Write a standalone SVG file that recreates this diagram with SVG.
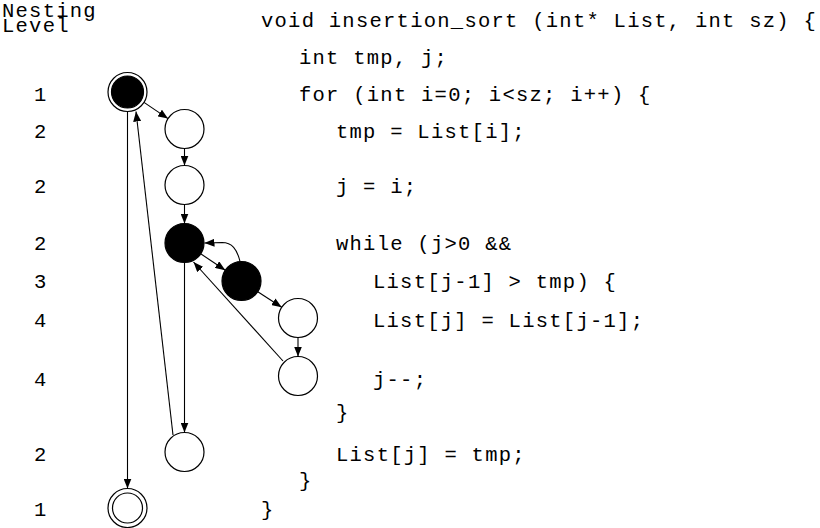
<svg xmlns="http://www.w3.org/2000/svg" width="820" height="528" viewBox="0 0 820 528">
<style>
text{font-family:"Liberation Mono","Courier New",monospace;font-size:20.5px;letter-spacing:1.26px;fill:#000}
.n{fill:#fff;stroke:#000;stroke-width:1.2}
.f{fill:#000;stroke:#000;stroke-width:1.2}
.e{fill:none;stroke:#000;stroke-width:1.1}
</style>
<defs>
<marker id="a" viewBox="0 0 10 8" refX="10" refY="4" markerWidth="10" markerHeight="8" markerUnits="userSpaceOnUse" orient="auto">
<path d="M0,0 L10,4 L0,8 Z" fill="#000"/>
</marker>
</defs>
<g id="labels">
<text x="2" y="17">Nesting</text>
<text x="2" y="32">Level</text>
<text x="34" y="101">1</text>
<text x="34" y="138">2</text>
<text x="34" y="193">2</text>
<text x="34" y="250">2</text>
<text x="34" y="288">3</text>
<text x="34" y="327">4</text>
<text x="34" y="386">4</text>
<text x="34" y="461">2</text>
<text x="34" y="516">1</text>
</g>
<g id="code">
<text x="261" y="27">void insertion_sort (int* List, int sz) {</text>
<text x="299" y="64">int tmp, j;</text>
<text x="299" y="101">for (int i=0; i&lt;sz; i++) {</text>
<text x="336" y="138">tmp = List[i];</text>
<text x="336" y="193">j = i;</text>
<text x="336" y="250">while (j&gt;0 &amp;&amp;</text>
<text x="373" y="288">List[j-1] &gt; tmp) {</text>
<text x="373" y="327">List[j] = List[j-1];</text>
<text x="373" y="386">j--;</text>
<text x="336" y="419">}</text>
<text x="336" y="461">List[j] = tmp;</text>
<text x="299" y="487">}</text>
<text x="261" y="516">}</text>
</g>
<g id="connectors">
<line class="e" x1="144" y1="102.4" x2="168" y2="118.6" marker-end="url(#a)"/>
<line class="e" x1="184.5" y1="148.5" x2="184.5" y2="165.5" marker-end="url(#a)"/>
<line class="e" x1="184.5" y1="204.5" x2="184.5" y2="223.5" marker-end="url(#a)"/>
<line class="e" x1="200.7" y1="253.8" x2="225.3" y2="270.2" marker-end="url(#a)"/>
<path class="e" d="M240,261.5 C237,249 232,242.5 222,242.5 L204.5,243" marker-end="url(#a)"/>
<line class="e" x1="257.8" y1="291.7" x2="281.7" y2="307.3" marker-end="url(#a)"/>
<line class="e" x1="298" y1="337.5" x2="298" y2="356.5" marker-end="url(#a)"/>
<line class="e" x1="283" y1="361" x2="193.5" y2="262" marker-end="url(#a)"/>
<line class="e" x1="184.5" y1="262.5" x2="184.5" y2="432.5" marker-end="url(#a)"/>
<line class="e" x1="173" y1="435" x2="136" y2="111.5" marker-end="url(#a)"/>
<line class="e" x1="127.5" y1="111.5" x2="127.5" y2="488.5" marker-end="url(#a)"/>
</g>
<g id="n1"><circle class="n" cx="127.5" cy="92" r="19.5"/><circle class="f" cx="127.5" cy="92" r="16"/></g>
<g id="n2"><circle class="n" cx="184.5" cy="129" r="19.5"/></g>
<g id="n3"><circle class="n" cx="184.5" cy="185" r="19.5"/></g>
<g id="n4"><circle class="f" cx="184.5" cy="243" r="19.5"/></g>
<g id="n5"><circle class="f" cx="241.5" cy="281" r="19.5"/></g>
<g id="n6"><circle class="n" cx="298" cy="318" r="19.5"/></g>
<g id="n7"><circle class="n" cx="298" cy="376" r="19.5"/></g>
<g id="n8"><circle class="n" cx="184.5" cy="452" r="19.5"/></g>
<g id="n9"><circle class="n" cx="127.5" cy="508" r="19.5"/><circle class="n" cx="127.5" cy="508" r="15"/></g>
</svg>
